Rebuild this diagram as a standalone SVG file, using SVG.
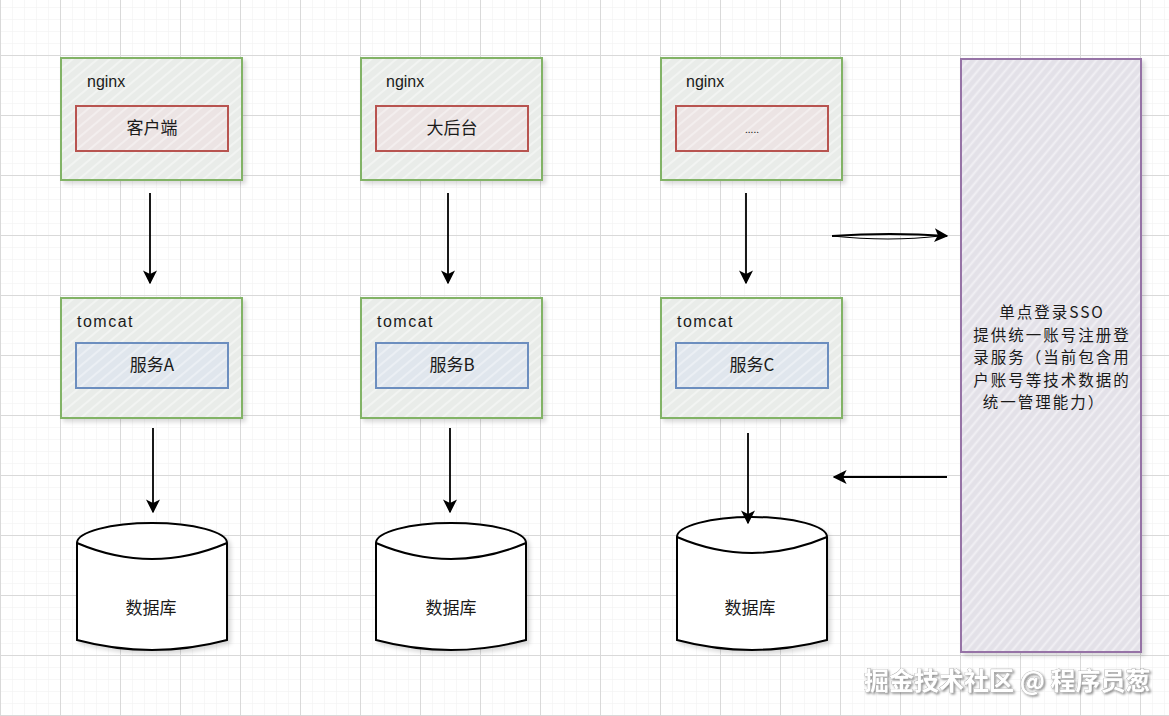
<svg xmlns="http://www.w3.org/2000/svg" width="1169" height="716" viewBox="0 0 1169 716">
<defs>
<pattern id="minor" x="0" y="7" width="12" height="12" patternUnits="userSpaceOnUse"><path d="M0,0 H12 M0,0 V12" fill="none" stroke="#efefef" stroke-width="1"/></pattern>
<pattern id="major" x="0" y="55" width="60" height="60" patternUnits="userSpaceOnUse"><path d="M0,0.5 H60 M0.5,0 V60" fill="none" stroke="#d9d9d9" stroke-width="1"/></pattern>
<pattern id="hatchG" width="8" height="8" patternUnits="userSpaceOnUse" patternTransform="rotate(-40)"><rect width="8" height="8" fill="#e9ece9"/><line x1="0" y1="4" x2="8" y2="4" stroke="#f2f4f2" stroke-width="2"/></pattern>
<pattern id="hatchR" width="8" height="8" patternUnits="userSpaceOnUse" patternTransform="rotate(-40)"><rect width="8" height="8" fill="#ece4e4"/><line x1="0" y1="4" x2="8" y2="4" stroke="#f3eeee" stroke-width="2"/></pattern>
<pattern id="hatchB" width="8" height="8" patternUnits="userSpaceOnUse" patternTransform="rotate(-40)"><rect width="8" height="8" fill="#e0e6ed"/><line x1="0" y1="4" x2="8" y2="4" stroke="#ebeff4" stroke-width="2"/></pattern>
<pattern id="hatchP" width="7" height="7" patternUnits="userSpaceOnUse" patternTransform="rotate(-50)"><rect width="7" height="7" fill="#e3e1e8"/><line x1="0" y1="3.5" x2="7" y2="3.5" stroke="#f1f0f4" stroke-width="2"/></pattern>
<filter id="sh" x="-10%" y="-10%" width="130%" height="130%"><feDropShadow dx="3" dy="3" stdDeviation="2" flood-color="#000" flood-opacity="0.15"/></filter>
<filter id="wsh" x="-5%" y="-20%" width="110%" height="150%"><feDropShadow dx="1.5" dy="1.5" stdDeviation="0.8" flood-color="#000" flood-opacity="0.45"/></filter>
<marker id="ah2" viewBox="0 0 10 10" refX="9" refY="5" markerWidth="14" markerHeight="14" orient="auto" markerUnits="userSpaceOnUse"><path d="M0,0 L10,5 L0,10 L2.5,5 Z" fill="#000"/></marker>
</defs>
<style>
.outer{fill:url(#hatchG);stroke:#82b366;stroke-width:2;filter:url(#sh)}
.red{fill:url(#hatchR);stroke:#b85450;stroke-width:2}
.blue{fill:url(#hatchB);stroke:#6c8ebf;stroke-width:2}
.sso{fill:url(#hatchP);stroke:#9673a6;stroke-width:2;filter:url(#sh)}
.db{fill:#fff;stroke:#000;stroke-width:2;filter:url(#sh)}
.dbl{fill:none;stroke:#000;stroke-width:2}
.lbl{font-family:"Liberation Sans","Noto Sans CJK SC",sans-serif;font-size:16px;fill:#1a1a1a}
.ctr{font-family:"Noto Sans CJK SC","Liberation Sans",sans-serif;font-size:17px;fill:#1a1a1a;text-anchor:middle}
.sst{font-family:"Noto Sans CJK SC","Liberation Sans",sans-serif;font-size:15.5px;letter-spacing:2px;fill:#1a1a1a;text-anchor:middle}
.edge{fill:none;stroke:#000;stroke-width:1.8;marker-end:url(#ah2)}
.wm{font-family:"Noto Sans CJK SC",sans-serif;font-size:25px;font-weight:bold;fill:#ffffff;stroke:#9a9a9a;stroke-width:0.6;paint-order:stroke;filter:url(#wsh)}
</style>
<rect width="1169" height="716" fill="#ffffff"/>
<rect width="1169" height="716" fill="url(#minor)"/>
<rect width="1169" height="716" fill="url(#major)"/>

<g id="nginx1"><rect class="outer" x="61" y="58" width="181" height="122"/><text class="lbl" x="87" y="87">nginx</text>
<g id="client"><rect class="red" x="76" y="106" width="152" height="45"/><text class="ctr" x="152" y="134">客户端</text></g></g>
<g id="nginx2"><rect class="outer" x="361" y="58" width="181" height="122"/><text class="lbl" x="386" y="87">nginx</text>
<g id="backend"><rect class="red" x="376" y="106" width="152" height="45"/><text class="ctr" x="452" y="134">大后台</text></g></g>
<g id="nginx3"><rect class="outer" x="661" y="58" width="181" height="122"/><text class="lbl" x="686" y="87">nginx</text>
<g id="other"><rect class="red" x="676" y="106" width="152" height="45"/><text class="ctr" x="752" y="133" style="font-size:10px">.....</text></g></g>

<g id="tomcat1"><rect class="outer" x="61" y="298" width="181" height="120"/><text class="lbl" x="77" y="327" letter-spacing="1.5">tomcat</text>
<g id="svcA"><rect class="blue" x="76" y="343" width="152" height="45"/><text class="ctr" x="152" y="371">服务A</text></g></g>
<g id="tomcat2"><rect class="outer" x="361" y="298" width="181" height="120"/><text class="lbl" x="377" y="327" letter-spacing="1.5">tomcat</text>
<g id="svcB"><rect class="blue" x="376" y="343" width="152" height="45"/><text class="ctr" x="452" y="371">服务B</text></g></g>
<g id="tomcat3"><rect class="outer" x="661" y="298" width="181" height="120"/><text class="lbl" x="677" y="327" letter-spacing="1.5">tomcat</text>
<g id="svcC"><rect class="blue" x="676" y="343" width="152" height="45"/><text class="ctr" x="752" y="371">服务C</text></g></g>

<g id="db1"><path class="db" d="M77,543 A75,20 0 0 1 227,543 V640 Q152,660 77,640 Z"/><path class="dbl" d="M77,543 Q152,575 227,543"/><text class="ctr" x="151" y="614">数据库</text></g>
<g id="db2"><path class="db" d="M376,543 A75,20 0 0 1 526,543 V640 Q451,660 376,640 Z"/><path class="dbl" d="M376,543 Q451,575 526,543"/><text class="ctr" x="451" y="614">数据库</text></g>
<g id="db3"><path class="db" d="M677,537 A75,20 0 0 1 827,537 V640 Q752,660 677,640 Z"/><path class="dbl" d="M677,537 Q752,569 827,537"/><text class="ctr" x="750" y="614">数据库</text></g>

<g id="sso"><rect class="sso" x="961" y="59" width="180" height="593"/>
<text class="sst" x="1052" y="318">单点登录SSO</text>
<text class="sst" x="1052" y="341">提供统一账号注册登</text>
<text class="sst" x="1052" y="363">录服务（当前包含用</text>
<text class="sst" x="1052" y="386">户账号等技术数据的</text>
<text class="sst" x="1044" y="408">统一管理能力）</text></g>

<g id="edges">
<path class="edge" d="M150,193 V283"/>
<path class="edge" d="M448,193 V283"/>
<path class="edge" d="M746,193 V283"/>
<path class="edge" d="M153,428 V512"/>
<path class="edge" d="M450,428 V512"/>
<path class="edge" d="M748,433 V523"/>
<path class="edge" d="M832,236 Q890,232 947,236"/>
<path fill="none" stroke="#000" stroke-width="1.2" d="M832,236 Q890,242 940,236"/>
<path class="edge" d="M947,477 H834"/>
</g>
<text class="wm" x="864" y="690">掘金技术社区 @ 程序员葱</text>
</svg>
